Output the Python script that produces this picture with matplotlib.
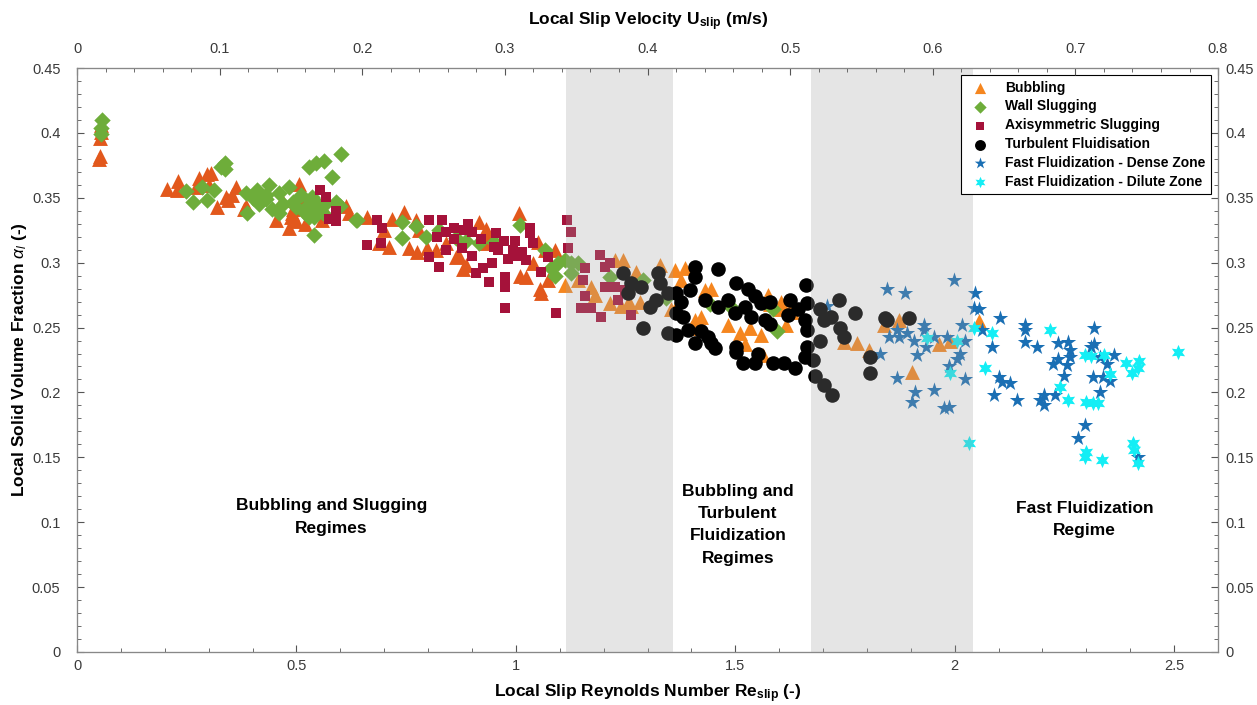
import numpy as np
import matplotlib
matplotlib.use("Agg")
import matplotlib.pyplot as plt
from matplotlib.ticker import MultipleLocator

plt.rcParams['font.family'] = ['Liberation Sans', 'DejaVu Sans']
plt.rcParams['mathtext.fontset'] = 'custom'
plt.rcParams['mathtext.rm'] = 'Liberation Sans'
plt.rcParams['mathtext.it'] = 'Liberation Sans:italic'
plt.rcParams['mathtext.bf'] = 'Liberation Sans:bold'

# Bubbling (first data set, red-orange)
bub1_x = [0.050, 0.052, 0.053, 0.054, 0.055,
          0.204, 0.230, 0.227, 0.279, 0.295, 0.306, 0.272, 0.320, 0.340, 0.354, 0.363, 0.386,
          0.381, 0.454, 0.468, 0.488, 0.484, 0.491, 0.506, 0.511, 0.559, 0.613, 0.620,
          0.718, 0.745, 0.772, 0.688, 0.711, 0.756, 0.774, 0.797, 0.817, 0.863, 0.870, 0.886,
          0.880, 0.915, 0.933, 1.006, 1.010, 1.024, 1.051, 1.067, 1.090, 1.056, 1.058, 1.074,
          0.931, 0.500, 0.490, 0.345, 0.300, 0.520, 0.570, 0.780, 0.840, 0.930, 1.040, 0.700,
          0.660]
bub1_y = [0.380, 0.382, 0.396, 0.401, 0.406,
          0.357, 0.363, 0.356, 0.365, 0.368, 0.369, 0.358, 0.343, 0.351, 0.352, 0.358, 0.344,
          0.341, 0.333, 0.348, 0.335, 0.327, 0.341, 0.361, 0.348, 0.333, 0.344, 0.338,
          0.334, 0.339, 0.333, 0.315, 0.312, 0.311, 0.308, 0.311, 0.310, 0.304, 0.305, 0.298,
          0.295, 0.331, 0.326, 0.338, 0.290, 0.289, 0.316, 0.310, 0.310, 0.280, 0.277, 0.287,
          0.323, 0.332, 0.338, 0.348, 0.360, 0.330, 0.337, 0.325, 0.315, 0.315, 0.300, 0.325,
          0.335]

# Bubbling (second data set, orange)
bub2_x = [1.112, 1.142, 1.172, 1.181, 1.215, 1.226, 1.244, 1.256, 1.240, 1.263, 1.283, 1.274,
          1.328, 1.353, 1.362, 1.385, 1.376, 1.362, 1.408, 1.421, 1.400, 1.431, 1.444, 1.483,
          1.510, 1.533, 1.558, 1.521, 1.562, 1.574, 1.603, 1.630, 1.603, 1.615, 1.630, 1.580,
          1.748, 1.778, 1.805, 1.839, 1.873, 1.903, 1.964, 1.990, 2.055]
bub2_y = [0.283, 0.287, 0.281, 0.275, 0.269, 0.302, 0.302, 0.269, 0.267, 0.267, 0.270, 0.293,
          0.298, 0.264, 0.294, 0.296, 0.287, 0.264, 0.256, 0.258, 0.250, 0.279, 0.280, 0.252,
          0.246, 0.250, 0.244, 0.237, 0.229, 0.275, 0.270, 0.267, 0.264, 0.252, 0.262, 0.268,
          0.239, 0.238, 0.233, 0.252, 0.256, 0.216, 0.237, 0.240, 0.255]

# Wall slugging
wall_x = [0.056, 0.055, 0.055,
          0.248, 0.264, 0.295, 0.284, 0.313, 0.329, 0.336, 0.336, 0.388, 0.386, 0.409, 0.422,
          0.438, 0.445, 0.461, 0.484, 0.491, 0.522, 0.529, 0.536, 0.545, 0.529, 0.545, 0.563,
          0.602, 0.581, 0.540, 0.568, 0.590, 0.636, 0.540, 0.430, 0.415,
          0.638, 0.600, 0.740, 0.740, 0.772, 0.795, 0.824, 0.863, 0.886, 0.915, 0.949, 1.010,
          1.067, 1.081, 1.097, 1.112, 1.126, 1.142, 1.126, 1.215, 1.090,
          1.342, 1.290, 1.442, 1.585, 1.596, 1.490,
          0.400, 0.430, 0.470, 0.500, 0.520, 0.550, 0.560, 0.510, 0.460, 0.530]
wall_y = [0.410, 0.404, 0.399,
          0.355, 0.347, 0.348, 0.358, 0.356, 0.374, 0.377, 0.372, 0.338, 0.354, 0.356, 0.351,
          0.360, 0.341, 0.354, 0.358, 0.347, 0.343, 0.335, 0.351, 0.341, 0.374, 0.377, 0.378,
          0.384, 0.366, 0.321, 0.346, 0.347, 0.333, 0.335, 0.349, 0.345,
          0.333, 0.344, 0.331, 0.319, 0.328, 0.320, 0.325, 0.319, 0.317, 0.315, 0.316, 0.329,
          0.310, 0.296, 0.300, 0.302, 0.300, 0.300, 0.292, 0.289, 0.290,
          0.273, 0.287, 0.268, 0.264, 0.247, 0.266,
          0.350, 0.352, 0.345, 0.343, 0.338, 0.345, 0.338, 0.352, 0.338, 0.348]

# Axisymmetric slugging
axi_x = [0.554, 0.568, 0.575, 0.590, 0.590,
         0.661, 0.684, 0.695, 0.693, 0.802, 0.802, 0.824, 0.831, 0.840, 0.858, 0.840, 0.881,
         0.899, 0.877, 0.908, 0.926, 0.938, 0.945, 0.954, 0.972, 0.960, 0.976, 0.976, 0.983,
         0.999, 0.994, 1.013, 1.022, 1.033, 1.033, 1.058, 1.074, 0.976, 1.092,
         1.117, 1.126, 1.119, 1.158, 1.153, 1.158, 1.149, 1.172, 1.194, 1.192, 1.203, 1.203,
         1.226, 1.215, 1.249, 1.263, 1.233,
         0.860, 0.920, 0.950, 1.000, 0.890, 0.820, 1.040, 0.900]
axi_y = [0.356, 0.351, 0.334, 0.332, 0.340,
         0.314, 0.333, 0.327, 0.315, 0.333, 0.304, 0.297, 0.333, 0.324, 0.327, 0.310, 0.325,
         0.324, 0.311, 0.292, 0.296, 0.285, 0.300, 0.323, 0.317, 0.310, 0.289, 0.281, 0.303,
         0.317, 0.310, 0.308, 0.302, 0.323, 0.327, 0.293, 0.304, 0.265, 0.261,
         0.333, 0.324, 0.311, 0.296, 0.287, 0.274, 0.265, 0.265, 0.258, 0.306, 0.297, 0.281,
         0.281, 0.300, 0.279, 0.260, 0.271,
         0.318, 0.318, 0.312, 0.305, 0.330, 0.320, 0.315, 0.305]

# Turbulent fluidisation
turb_x = [1.408, 1.460, 1.501, 1.408, 1.396, 1.365, 1.376, 1.431, 1.460, 1.483, 1.499, 1.528,
          1.544, 1.558, 1.580, 1.521, 1.535, 1.567, 1.580, 1.365, 1.381, 1.392, 1.365, 1.421,
          1.437, 1.444, 1.408, 1.453, 1.501, 1.501, 1.517, 1.544, 1.551, 1.585, 1.612, 1.637,
          1.658, 1.624, 1.642, 1.658, 1.660, 1.620,
          1.664, 1.664, 1.664, 1.676, 1.681, 1.701, 1.721, 1.692, 1.703, 1.717, 1.694, 1.737,
          1.739, 1.748, 1.773, 1.807, 1.807, 1.846, 1.896, 1.840,
          1.244, 1.263, 1.285, 1.256, 1.324, 1.328, 1.346, 1.306, 1.319, 1.290, 1.346]
turb_y = [0.297, 0.295, 0.284, 0.289, 0.279, 0.277, 0.270, 0.271, 0.266, 0.271, 0.261, 0.280,
          0.274, 0.269, 0.270, 0.266, 0.258, 0.256, 0.253, 0.261, 0.258, 0.248, 0.244, 0.247,
          0.243, 0.238, 0.238, 0.234, 0.235, 0.231, 0.223, 0.223, 0.230, 0.223, 0.223, 0.219,
          0.227, 0.271, 0.264, 0.256, 0.283, 0.260,
          0.269, 0.248, 0.235, 0.225, 0.213, 0.206, 0.198, 0.264, 0.256, 0.258, 0.240, 0.271,
          0.250, 0.243, 0.261, 0.227, 0.215, 0.256, 0.257, 0.257,
          0.292, 0.284, 0.281, 0.277, 0.292, 0.284, 0.277, 0.266, 0.271, 0.250, 0.246]

# Fast fluidization - dense zone
dense_x = [1.710, 1.846, 1.887, 1.998, 1.830, 1.851, 1.873, 1.869, 1.892, 1.908, 1.930, 1.930,
           1.914, 1.935, 1.953, 1.982, 1.987, 2.005, 2.012, 2.016, 2.023, 2.023, 1.869, 1.910,
           1.903, 1.953, 1.975, 1.987,
           2.046, 2.044, 2.055, 2.062, 2.103, 2.084, 2.100, 2.107, 2.126, 2.089, 2.141, 2.159,
           2.160, 2.159, 2.187, 2.236, 2.259, 2.262, 2.262, 2.236, 2.223, 2.255, 2.248, 2.318,
           2.318, 2.310, 2.330, 2.346, 2.364, 2.316, 2.339, 2.330, 2.353, 2.203, 2.203, 2.228,
           2.194, 2.296, 2.280, 2.418]
dense_y = [0.267, 0.280, 0.277, 0.287, 0.230, 0.243, 0.243, 0.248, 0.246, 0.240, 0.248, 0.252,
           0.229, 0.235, 0.243, 0.243, 0.220, 0.226, 0.230, 0.252, 0.240, 0.210, 0.211, 0.200,
           0.193, 0.202, 0.188, 0.189,
           0.277, 0.265, 0.264, 0.248, 0.257, 0.235, 0.212, 0.208, 0.207, 0.198, 0.194, 0.248,
           0.252, 0.239, 0.235, 0.238, 0.239, 0.233, 0.227, 0.226, 0.222, 0.221, 0.213, 0.250,
           0.237, 0.235, 0.227, 0.222, 0.229, 0.212, 0.212, 0.200, 0.209, 0.198, 0.190, 0.198,
           0.194, 0.175, 0.165, 0.150]

# Fast fluidization - dilute zone
dil_x = [1.937, 2.005, 1.989, 2.032, 2.044, 2.084, 2.069, 2.216, 2.239, 2.259, 2.296, 2.310,
         2.341, 2.353, 2.300, 2.316, 2.327, 2.391, 2.405, 2.421, 2.418, 2.509, 2.298, 2.296,
         2.336, 2.407, 2.409, 2.418]
dil_y = [0.242, 0.240, 0.215, 0.161, 0.250, 0.246, 0.219, 0.248, 0.204, 0.194, 0.229, 0.228,
         0.229, 0.214, 0.193, 0.192, 0.192, 0.223, 0.215, 0.224, 0.219, 0.231, 0.154, 0.150,
         0.148, 0.161, 0.156, 0.146]

# regime boundaries (Re_slip) and labels
shade_spans = [(1.115, 1.359), (1.672, 2.041)]
regime_labels = ["Bubbling and Slugging\nRegimes",
                 "Bubbling and\nTurbulent\nFluidization\nRegimes",
                 "Fast Fluidization\nRegime"]
regime_pos = [(0.58, 0.104), (1.506, 0.098), (2.296, 0.102)]

yt = [0, 0.05, 0.1, 0.15, 0.2, 0.25, 0.3, 0.35, 0.4, 0.45]
yt_labels = ['0', '0.05', '0.1', '0.15', '0.2', '0.25', '0.3', '0.35', '0.4', '0.45']

fig = plt.figure(figsize=(12.57, 7.05), dpi=100)
ax = fig.add_axes([0.0613, 0.0752, 0.9077, 0.8283])

ax.scatter(bub1_x, bub1_y, marker='^', s=115, color='#E2581C', linewidths=0, zorder=3)
ax.scatter(bub2_x, bub2_y, marker='^', s=115, color='#F5861F', linewidths=0, zorder=3,
           label='Bubbling')
ax.scatter(wall_x, wall_y, marker='D', s=70, color='#6EAD3A', linewidths=0, zorder=3,
           label='Wall Slugging')
ax.scatter(axi_x, axi_y, marker='s', s=60, color='#A5123A', linewidths=0, zorder=3,
           label='Axisymmetric Slugging')
ax.scatter(turb_x, turb_y, marker='o', s=110, color='black', linewidths=0, zorder=4,
           label='Turbulent Fluidisation')
ax.scatter(dense_x, dense_y, marker='*', s=135, color='#1A6FB4', linewidths=0, zorder=3,
           label='Fast Fluidization - Dense Zone')
ax.scatter(dil_x, dil_y, marker=(6, 1, 0), s=120, color='#14EEF5', linewidths=0, zorder=3,
           label='Fast Fluidization - Dilute Zone')

# translucent grey bands drawn over the points
for a, b in shade_spans:
    ax.axvspan(a, b, facecolor=(0.63, 0.63, 0.63), alpha=0.27, edgecolor='none', zorder=5)

for txt, (tx, ty) in zip(regime_labels, regime_pos):
    ax.text(tx, ty, txt, ha='center', va='center', fontsize=12.5, fontweight='bold',
            linespacing=1.6, zorder=6)

ax.set_xlim(0, 2.6)
ax.set_ylim(0, 0.45)
ax.set_xticks([0, 0.5, 1, 1.5, 2, 2.5])
ax.set_xticklabels(['0', '0.5', '1', '1.5', '2', '2.5'])
ax.xaxis.set_minor_locator(MultipleLocator(0.1))
ax.set_yticks(yt)
ax.set_yticklabels(yt_labels)
ax.yaxis.set_minor_locator(MultipleLocator(0.01))
ax.tick_params(which='both', direction='in', top=False, right=False,
               colors='#3a3a3a', labelsize=10.5)
ax.tick_params(which='major', length=5, color='#555555')
ax.tick_params(which='minor', length=3, color='#555555')
ax.tick_params(axis='x', pad=5)
ax.tick_params(axis='y', which='both', pad=12)

ax.set_xlabel(r'Local Slip Reynolds Number Re$_{\mathbf{slip}}$ (-)', fontsize=12.5,
              fontweight='bold', labelpad=7)
ax.set_ylabel(r'Local Solid Volume Fraction $\alpha_l$ (-)', fontsize=12.5,
              fontweight='bold', labelpad=2)

# right axis
ax3 = ax.twinx()
ax3.set_ylim(0, 0.45)
ax3.set_yticks(yt)
ax3.set_yticklabels(yt_labels)
ax3.yaxis.set_minor_locator(MultipleLocator(0.01))
ax3.tick_params(which='both', direction='in', colors='#3a3a3a', labelsize=10.5, pad=5)
ax3.tick_params(which='major', length=5, color='#555555')
ax3.tick_params(which='minor', length=3, color='#555555')

# top axis: slip velocity
ax2 = ax.twiny()
ax2.set_xlim(0, 0.8)
ax2.set_xticks(np.arange(0, 0.81, 0.1))
ax2.set_xticklabels(['0', '0.1', '0.2', '0.3', '0.4', '0.5', '0.6', '0.7', '0.8'])
ax2.xaxis.set_minor_locator(MultipleLocator(0.02))
ax2.tick_params(which='both', direction='in', colors='#3a3a3a', labelsize=10.5, pad=9)
ax2.tick_params(which='major', length=5, color='#555555')
ax2.tick_params(which='minor', length=3, color='#555555')
ax2.set_xlabel(r'Local Slip Velocity U$_{\mathbf{slip}}$ (m/s)', fontsize=12.5,
               fontweight='bold', labelpad=12)

for a_ in (ax, ax2, ax3):
    for sp in a_.spines.values():
        sp.set_color('#888888')

leg = ax.legend(loc='upper right', bbox_to_anchor=(0.994, 0.988), borderaxespad=0,
                frameon=True, fancybox=False, edgecolor='black', framealpha=1,
                borderpad=0.4, labelspacing=0.35, handletextpad=0.8, markerscale=0.75,
                prop={'weight': 'bold', 'size': 10})
leg.get_frame().set_linewidth(0.8)
leg.set_zorder(10)

# keep main axes (with legend) above the right twin
ax3.set_zorder(ax.get_zorder() - 1)
ax.patch.set_visible(False)
ax3.patch.set_visible(True)
ax3.patch.set_facecolor('white')

fig.savefig('out.png', dpi=100)
